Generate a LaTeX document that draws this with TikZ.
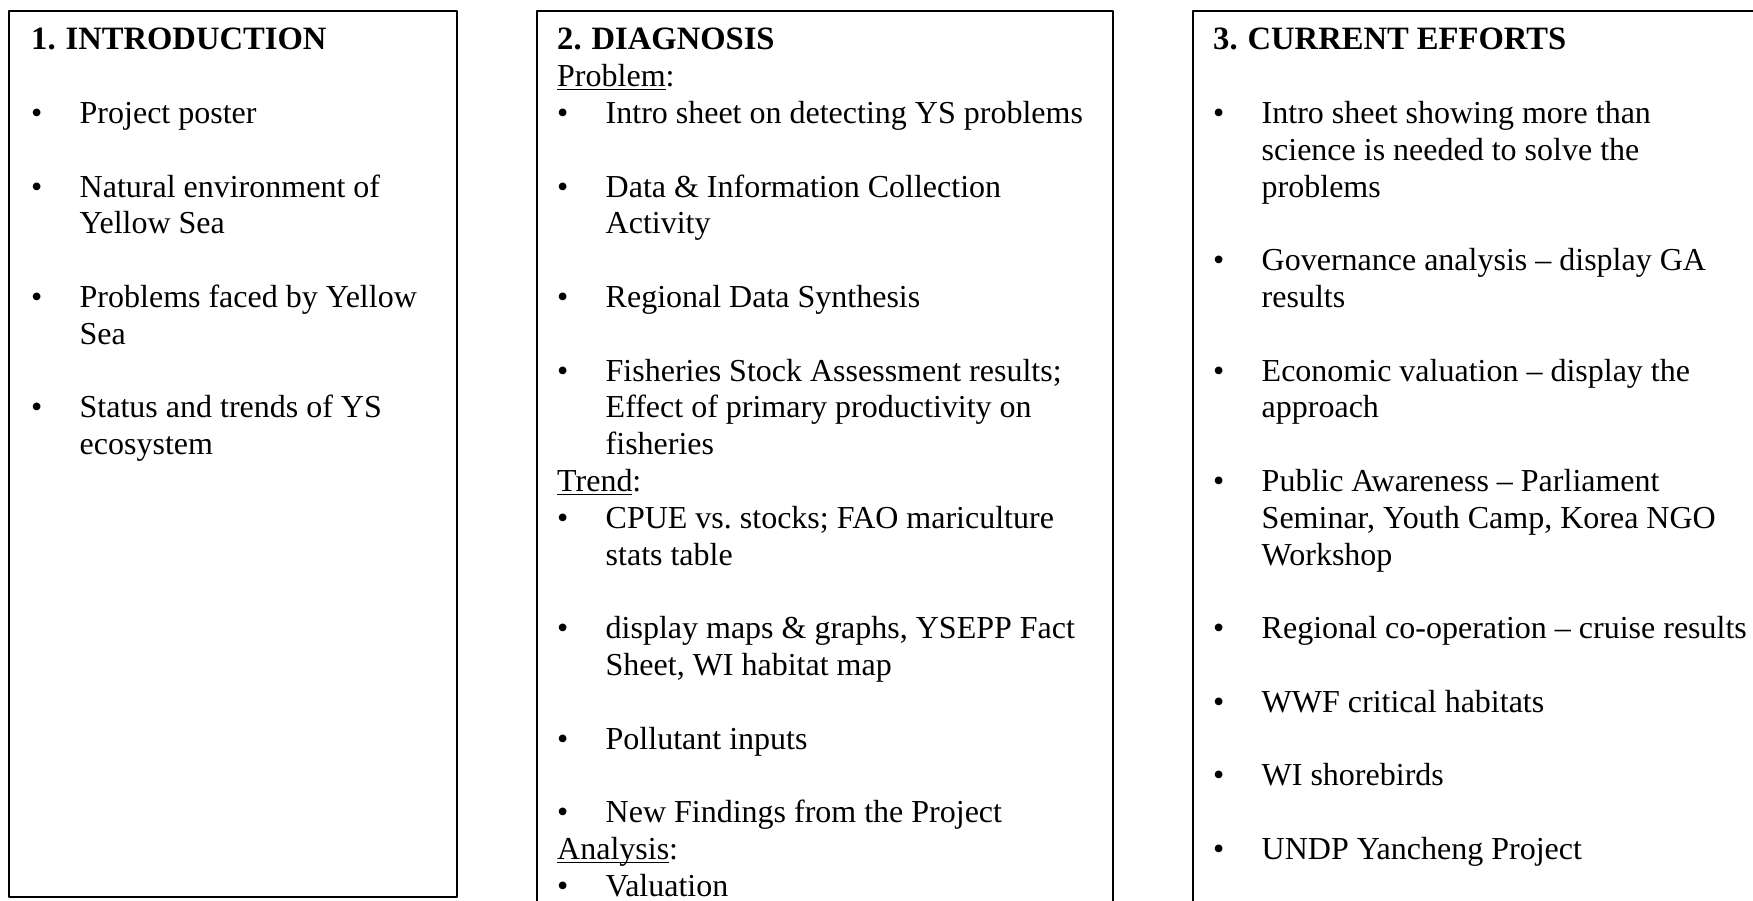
\documentclass[tikz,border=0pt]{standalone}
\usepackage{fontspec}
\setmainfont{Liberation Serif}
\usepackage{array}
\newsavebox\ulbox
\newcommand\ul[1]{\sbox\ulbox{#1}\rlap{\rule[-3.5pt]{\wd\ulbox}{1.4pt}}\usebox\ulbox}
\newcommand\bl{\textbullet}
\newcommand\hd[1]{\multicolumn{2}{@{}l@{}}{\fontsize{32.6}{36.8}\selectfont\bfseries #1}}
\begin{document}
\begin{tikzpicture}[x=1pt,y=-1pt,line join=round,
	khung/.style={line width=1.6pt},
	cot/.style={anchor=base west,inner sep=0pt,font=\fontsize{32}{36.8}\selectfont}]
		%==box corners, first baseline, indent
		\def\top{11}
		\def\dong{50}
		\def\lui{48.5pt}
		%==============
		\useasboundingbox (0,0) rectangle (1753,901);
		\clip (0,0) rectangle (1753,901);
		\draw[khung] (9,\top)coordinate(A) rectangle (457,897)coordinate(B);
		\draw[khung] (537,\top)coordinate(C) rectangle (1113,930)coordinate(D);
		\draw[khung] (1193,\top)coordinate(E) rectangle (1790,930)coordinate(F);
		\node[cot] (intro) at (31,\dong) {\begin{tabular}[t]{@{}w{l}{\lui}@{}l@{}}
			\hd{1.\hspace{10pt}INTRODUCTION}\\
			&\\
			\bl & Project poster\\
			&\\
			\bl & Natural environment of\\
			& Yellow Sea\\
			&\\
			\bl & Problems faced by Yellow\\
			& Sea\\
			&\\
			\bl & Status and trends of YS\\
			& ecosystem
		\end{tabular}};
		\node[cot] (diag) at (557,\dong) {\begin{tabular}[t]{@{}w{l}{\lui}@{}l@{}}
			\hd{2.\hspace{10pt}DIAGNOSIS}\\
			\multicolumn{2}{@{}l@{}}{\ul{Problem}:}\\
			\bl & Intro sheet on detecting YS problems\\
			&\\
			\bl & Data \& Information Collection\\
			& Activity\\
			&\\
			\bl & Regional Data Synthesis\\
			&\\
			\bl & Fisheries Stock Assessment results;\\
			& Effect of primary productivity on\\
			& fisheries\\
			\multicolumn{2}{@{}l@{}}{\ul{Trend}:}\\
			\bl & CPUE vs.\ stocks; FAO mariculture\\
			& stats table\\
			&\\
			\bl & display maps \& graphs, YSEPP Fact\\
			& Sheet, WI habitat map\\
			&\\
			\bl & Pollutant inputs\\
			&\\
			\bl & New Findings from the Project\\
			\multicolumn{2}{@{}l@{}}{\ul{Analysis}:}\\
			\bl & Valuation
		\end{tabular}};
		\node[cot] (effort) at (1213,\dong) {\begin{tabular}[t]{@{}w{l}{\lui}@{}l@{}}
			\hd{3.\hspace{10pt}CURRENT EFFORTS}\\
			&\\
			\bl & Intro sheet showing more than\\
			& science is needed to solve the\\
			& problems\\
			&\\
			\bl & Governance analysis – display GA\\
			& results\\
			&\\
			\bl & Economic valuation – display the\\
			& approach\\
			&\\
			\bl & Public Awareness – Parliament\\
			& Seminar, Youth Camp, Korea NGO\\
			& Workshop\\
			&\\
			\bl & Regional co-operation – cruise results\\
			&\\
			\bl & WWF critical habitats\\
			&\\
			\bl & WI shorebirds\\
			&\\
			\bl & UNDP Yancheng Project
		\end{tabular}};
		\end{tikzpicture}
\end{document}
